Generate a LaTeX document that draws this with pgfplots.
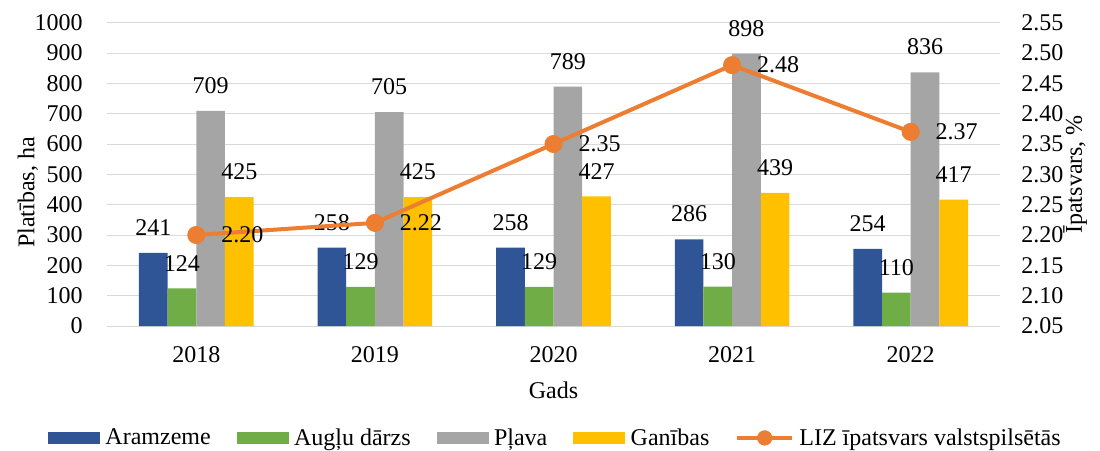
\documentclass[border=0pt]{standalone}
\usepackage{pgfplots}
\pgfplotsset{compat=1.18}
\usepackage{fontspec}
\setmainfont{Liberation Serif}
\definecolor{cblue}{HTML}{2F5597}
\definecolor{cgreen}{HTML}{70AD47}
\definecolor{cgray}{HTML}{A5A5A5}
\definecolor{cyellow}{HTML}{FFC000}
\definecolor{corange}{HTML}{ED7D31}
\definecolor{cgrid}{HTML}{D9D9D9}
\newcommand{\fs}{\fontsize{18}{21}\selectfont}
\pgfplotsset{
 barleg/.style={legend image code/.code={\fill[##1] (0pt,-4.5pt) rectangle (39pt,4.5pt);}},
 lineleg/.style={legend image code/.code={\draw[corange, line width=3pt] (0pt,0pt) -- (41pt,0pt); \fill[corange] (20.5pt,0pt) circle (5.5pt);}},
}
\pgfplotstableread{
x a b c d
0 241 124 709 425
1 258 129 705 425
2 258 129 789 427
3 286 130 898 439
4 254 110 836 417
}\bars
\pgfplotstableread{
x y
0 2.20
1 2.22
2 2.35
3 2.48
4 2.37
}\liz
\begin{document}
\begin{tikzpicture}
\begin{axis}[
 scale only axis, width=669.75pt, height=227.5pt,
 xmin=-0.5, xmax=4.5, ymin=0, ymax=1000,
 xtick={0,1,2,3,4}, xticklabels={2018,2019,2020,2021,2022},
 ytick={0,100,...,1000},
 ymajorgrids, major grid style={cgrid, line width=0.75pt},
 axis line style={draw=none},
 major tick length=0pt,
 font=\fs,
 /pgf/number format/assume math mode=true,
 /pgf/number format/1000 sep={},
 yticklabel style={anchor=east, inner sep=0pt, xshift=-18pt, font=\fs},
 xticklabel style={anchor=north, inner sep=0pt, yshift=-15.5pt, font=\fs},
 ylabel={Platības, ha},
 ylabel style={at={(axis description cs:-0.0885,0.44)}, anchor=center, font=\fs},
 xlabel={Gads},
 xlabel style={at={(axis description cs:0.5,0)}, anchor=center, yshift=-48pt, font=\fs},
 ybar, bar width=21.5pt,
 every node near coord/.append style={anchor=south, inner sep=0pt, yshift=12.75pt, font=\fs, text=black},
 legend columns=5,
 legend cell align=left,
 legend style={draw=none, fill=none, at={(axis description cs:0.501,-0.369)}, anchor=center, font=\fs,
   nodes={inner sep=0pt},
   /tikz/every odd column/.append style={column sep=4pt},
   /tikz/every even column/.append style={column sep=19.5pt}},
]
\addplot[barleg, draw=none, fill=cblue, bar shift=-32.25pt] table[x=x,y=a]{\bars};
\addlegendentry{Aramzeme}
\addplot[barleg, draw=none, fill=cgreen, bar shift=-10.75pt] table[x=x,y=b]{\bars};
\addlegendentry{Augļu dārzs}
\addplot[barleg, draw=none, fill=cgray, bar shift=10.75pt] table[x=x,y=c]{\bars};
\addlegendentry{Pļava}
\addplot[barleg, draw=none, fill=cyellow, bar shift=32.25pt] table[x=x,y=d]{\bars};
\addlegendentry{Ganības}
\addlegendimage{lineleg}
\addlegendentry{LIZ īpatsvars valstspilsētās}
\addplot[forget plot, draw=none, fill=none, bar shift=-32.25pt, nodes near coords] table[x=x,y=a]{\bars};
\addplot[forget plot, draw=none, fill=none, bar shift=-10.75pt, nodes near coords] table[x=x,y=b]{\bars};
\addplot[forget plot, draw=none, fill=none, bar shift=10.75pt, nodes near coords] table[x=x,y=c]{\bars};
\addplot[forget plot, draw=none, fill=none, bar shift=32.25pt, nodes near coords] table[x=x,y=d]{\bars};
\coordinate (ll) at (rel axis cs:0,0);
\coordinate (ur) at (rel axis cs:1,1);
\end{axis}
\begin{axis}[
 scale only axis, width=669.75pt, height=227.5pt,
 xmin=-0.5, xmax=4.5, ymin=2.05, ymax=2.55,
 axis x line=none, axis y line*=right,
 axis line style={draw=none},
 major tick length=0pt,
 ytick={2.05,2.10,2.15,2.20,2.25,2.30,2.35,2.40,2.45,2.50,2.55},
 font=\fs,
 /pgf/number format/assume math mode=true,
 /pgf/number format/.cd, fixed, fixed zerofill, precision=2, /pgfplots/.cd,
 yticklabel style={anchor=west, inner sep=0pt, xshift=15.75pt, font=\fs},
 ylabel={Īpatsvars, \%},
 ylabel style={at={(axis description cs:1.084,0.5)}, anchor=center, rotate=0, font=\fs},
 every node near coord/.append style={anchor=west, inner sep=0pt, xshift=18.5pt, font=\fs, text=black},
]
\addplot[corange, line width=3pt, mark=*, mark size=6.5pt, mark options={solid, fill=corange, line width=0.5pt}, nodes near coords] table[x=x,y=y]{\liz};
\end{axis}
\pgfresetboundingbox
\path ([xshift=-80.25pt,yshift=-93pt]ll) rectangle ([xshift=75pt,yshift=17pt]ur);
\end{tikzpicture}
\end{document}
